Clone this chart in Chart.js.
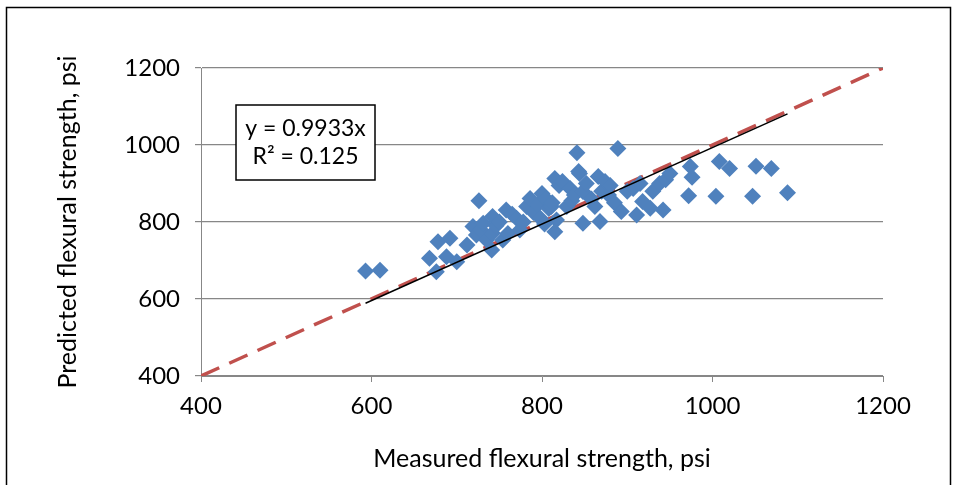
<!DOCTYPE html>
<html>
<head>
<meta charset="utf-8">
<script src="https://cdn.jsdelivr.net/npm/chart.js@4/dist/chart.umd.min.js"></script>
<style>
  html, body { margin: 0; padding: 0; background: #fff; }
  #wrap { width: 956px; height: 485px; position: relative; }
</style>
</head>
<body>
<div id="wrap"><canvas id="grafica" width="956" height="485"></canvas></div>
<script>
// ==========================================
// DATOS
// ==========================================
const medido = [
  593, 610, 668, 676, 678, 688, 692, 700, 712, 719, 723, 726, 728, 731, 735, 741,
  742, 742, 746, 750, 754, 758, 760, 765, 770, 774, 778, 782, 786, 790, 795, 798,
  800, 803, 805, 808, 811, 812, 815, 815, 817, 820, 824, 829, 833, 835, 838, 841,
  843, 844, 848, 848, 852, 858, 862, 866, 868, 870, 874, 878, 880, 885, 889, 893,
  900, 907, 911, 915, 918, 927, 930, 938, 942, 945, 950, 972, 974, 976, 1004, 1008,
  1020, 1047, 1051, 1069, 1088
];
const predicho = [
  673, 675, 706, 671, 749, 710, 758, 697, 740, 788, 766, 855, 780, 797, 753, 727,
  771, 814, 790, 800, 753, 831, 770, 820, 810, 779, 800, 840, 861, 825, 845, 810,
  874, 795, 860, 835, 840, 850, 913, 775, 805, 895, 905, 840, 887, 855, 870, 980,
  931, 926, 879, 797, 900, 860, 840, 918, 801, 880, 905, 870, 895, 850, 991, 827,
  880, 887, 818, 900, 853, 836, 880, 900, 831, 910, 926, 868, 944, 916, 867, 957,
  939, 867, 945, 939, 876
];

// línea de tendencia y = 0.9933x (extremos del rango medido)
const tendenciaX = [593, 1088];
const tendenciaY = [589, 1081];

// línea de igualdad 1:1
const igualdadX = [400, 1200];
const igualdadY = [400, 1200];

const ticksEjes = [400, 600, 800, 1000, 1200];
const textoEcuacion = ['y = 0.9933x', 'R² = 0.125'];

const FUENTE = 'Lato, "Open Sans", sans-serif';
const GRIS = '#878787';

// ==========================================
// PLUGINS (marco exterior y cuadro de ecuación)
// ==========================================
const marcoPlugin = {
  id: 'marco',
  afterDraw(chart) {
    const ctx = chart.ctx;
    ctx.save();
    ctx.strokeStyle = '#000';
    ctx.lineWidth = 1.5;
    ctx.strokeRect(6.5, 7.5, 944, 500);
    ctx.restore();
  }
};

const ecuacionPlugin = {
  id: 'ecuacion',
  afterDatasetsDraw(chart) {
    const ctx = chart.ctx;
    const x0 = 236, y0 = 105, w = 139, h = 75;
    ctx.save();
    ctx.fillStyle = '#fff';
    ctx.fillRect(x0, y0, w, h);
    ctx.strokeStyle = '#000';
    ctx.lineWidth = 1.5;
    ctx.strokeRect(x0, y0, w, h);
    ctx.fillStyle = '#000';
    ctx.font = '23px ' + FUENTE;
    ctx.textAlign = 'center';
    ctx.textBaseline = 'middle';
    ctx.fillText(textoEcuacion[0], x0 + w / 2, y0 + 24);
    ctx.fillText(textoEcuacion[1], x0 + w / 2, y0 + 52);
    ctx.restore();
  }
};

// ==========================================
// GRÁFICA
// ==========================================
const puntos = medido.map((x, i) => ({ x: x, y: predicho[i] }));
const tendencia = tendenciaX.map((x, i) => ({ x: x, y: tendenciaY[i] }));
const igualdad = igualdadX.map((x, i) => ({ x: x, y: igualdadY[i] }));

new Chart(document.getElementById('grafica').getContext('2d'), {
  type: 'scatter',
  data: {
    datasets: [
      {
        type: 'line',
        data: tendencia,
        borderColor: '#000',
        borderWidth: 1.5,
        pointRadius: 0,
        order: 0
      },
      {
        data: puntos,
        backgroundColor: '#4F81BD',
        borderWidth: 0,
        pointStyle: 'rectRot',
        pointRadius: 8.5,
        order: 1
      },
      {
        type: 'line',
        data: igualdad,
        borderColor: '#C0504D',
        borderWidth: 3.5,
        borderDash: [20, 11],
        pointRadius: 0,
        order: 2
      }
    ]
  },
  options: {
    responsive: false,
    animation: false,
    layout: { padding: { left: 0, top: 68, right: 73, bottom: 0 } },
    plugins: { legend: { display: false }, tooltip: { enabled: false } },
    scales: {
      x: {
        type: 'linear',
        min: 400, max: 1200,
        afterBuildTicks: s => { s.ticks = ticksEjes.map(v => ({ value: v })); },
        afterFit: s => { s.height = 109; },
        ticks: { color: '#000', font: { family: FUENTE, size: 24 }, padding: 10,
                 callback: v => String(v) },
        grid: { drawOnChartArea: false, drawTicks: true, tickLength: 6, color: GRIS },
        border: { color: GRIS, width: 1 },
        title: { display: true, text: 'Measured flexural strength, psi', color: '#000',
                 font: { family: FUENTE, size: 25 }, padding: { top: 0, bottom: 11 } }
      },
      y: {
        min: 400, max: 1200,
        afterBuildTicks: s => { s.ticks = ticksEjes.map(v => ({ value: v })); },
        afterFit: s => { s.width = 201; },
        ticks: { color: '#000', font: { family: FUENTE, size: 24 }, padding: 15,
                 callback: v => String(v) },
        grid: { drawOnChartArea: true, drawTicks: true, tickLength: 6, color: GRIS, lineWidth: 1.2 },
        border: { color: GRIS, width: 1 },
        title: { display: true, text: 'Predicted flexural strength, psi', color: '#000',
                 font: { family: FUENTE, size: 25 }, padding: { top: 53, bottom: 0 } }
      }
    }
  },
  plugins: [marcoPlugin, ecuacionPlugin]
});
</script>
</body>
</html>
